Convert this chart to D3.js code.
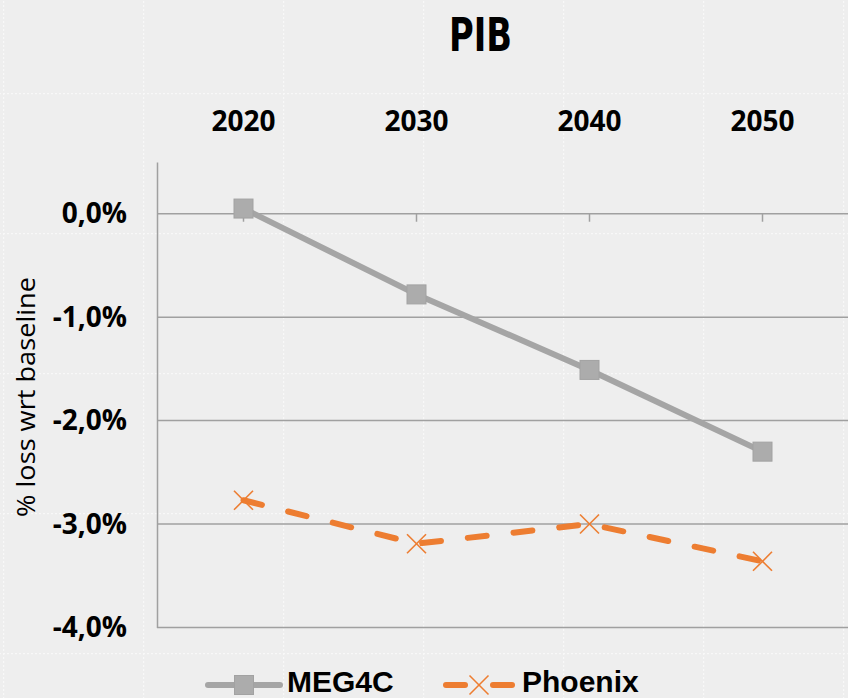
<!DOCTYPE html>
<html><head><meta charset="utf-8">
<script src="https://cdn.jsdelivr.net/npm/d3@7"></script>
<style>html,body{margin:0;padding:0;background:#eeeeee;overflow:hidden}</style>
</head><body>
<svg id="c" width="848" height="698"></svg>
<script>
const years = ["2020","2030","2040","2050"];
const meg4c = [0.05, -0.78, -1.51, -2.30];
const phoenix = [-2.77, -3.19, -3.00, -3.36];
const yTicks = [0, -1, -2, -3, -4];
const seriesNames = ["MEG4C","Phoenix"];

const svg = d3.select("#c");
const W = 848, H = 698;

// background with faint pattern grid
const defs = svg.append("defs");
const pat = defs.append("pattern").attr("id","bg").attr("patternUnits","userSpaceOnUse")
  .attr("width",140).attr("height",140).attr("x",3).attr("y",93);
pat.append("rect").attr("width",140).attr("height",140).attr("fill","#eeeeee");
pat.append("line").attr("x1",0).attr("x2",140).attr("y1",0.5).attr("y2",0.5)
  .attr("stroke","#f8f8f8").attr("stroke-width",1.5).attr("stroke-dasharray","2,2");
pat.append("line").attr("y1",0).attr("y2",140).attr("x1",0.5).attr("x2",0.5)
  .attr("stroke","#f8f8f8").attr("stroke-width",1.5).attr("stroke-dasharray","2,2");
svg.append("rect").attr("width",W).attr("height",H).attr("fill","url(#bg)");

const x = d3.scaleBand().domain(years).range([157, 849]).padding(0);
const y = d3.scaleLinear().domain([-4, 0.5]).range([627.5, 162]);
const cx = d => x(d) + x.bandwidth()/2;

const loc = d3.formatLocale({decimal: ",", thousands: ".", grouping:[3], currency:["","€"], minus:"-"});
const fmt = v => loc.format(".1f")(Math.abs(v) < 1e-9 ? 0 : v) + "%";

// gridlines
svg.append("g").selectAll("line").data(yTicks).join("line")
  .attr("x1",157).attr("x2",W).attr("y1",d=>y(d)).attr("y2",d=>y(d))
  .attr("stroke","#a0a0a0").attr("stroke-width",1.5);

// y axis
const yAxis = d3.axisLeft(y).tickValues(yTicks).tickFormat(fmt).tickSize(0).tickPadding(30);
const gy = svg.append("g").attr("transform","translate(157,0)").call(yAxis);
gy.select(".domain").attr("stroke","#a0a0a0").attr("stroke-width",1.5);
gy.selectAll("text").attr("font-family","'Open Sans', sans-serif").attr("font-weight","bold")
  .attr("font-size",28).attr("fill","#000");

// x axis at 0 with ticks below, labels at top
const xAxis = d3.axisBottom(x).tickSize(8).tickFormat("");
const gx = svg.append("g").attr("transform",`translate(0,${y(0)})`).call(xAxis);
gx.select(".domain").remove();
gx.selectAll(".tick line").attr("stroke","#a0a0a0").attr("stroke-width",1.5);

svg.append("g").selectAll("text").data(years).join("text")
  .attr("x",d=>cx(d)).attr("y",131).attr("text-anchor","middle")
  .attr("font-family","'Open Sans', sans-serif").attr("font-weight","bold").attr("font-size",28)
  .attr("fill","#000").text(d=>d);

// title
svg.append("text").attr("x",480.5).attr("y",51).attr("text-anchor","middle")
  .attr("font-family","'DejaVu Sans Condensed','DejaVu Sans',sans-serif").attr("font-weight","bold")
  .attr("font-size",46).attr("textLength",63).attr("lengthAdjust","spacingAndGlyphs")
  .attr("fill","#000").text("PIB");

// y title
svg.append("text").attr("transform","translate(35,397) rotate(-90)").attr("text-anchor","middle")
  .attr("font-family","'Open Sans', sans-serif").attr("font-size",26).attr("fill","#000")
  .attr("textLength",240).attr("lengthAdjust","spacingAndGlyphs")
  .text("% loss wrt baseline");

const line = d3.line().x((d,i)=>cx(years[i])).y(d=>y(d));

// MEG4C
svg.append("path").datum(meg4c).attr("d",line).attr("fill","none")
  .attr("stroke","#a5a5a5").attr("stroke-width",6).attr("stroke-linejoin","round");
svg.append("g").selectAll("rect").data(meg4c).join("rect")
  .attr("x",(d,i)=>cx(years[i])-9.5).attr("y",d=>y(d)-9.5).attr("width",19).attr("height",19)
  .attr("fill","#acacac").attr("stroke","#a2a2a2").attr("stroke-width",1);

// Phoenix
svg.append("path").datum(phoenix).attr("d",line).attr("fill","none")
  .attr("stroke","#ed7d31").attr("stroke-width",6).attr("stroke-linecap","round")
  .attr("stroke-dasharray","19,27");
const xm = (g, px, py, s) => {
  g.append("line").attr("x1",px-s).attr("y1",py-s).attr("x2",px+s).attr("y2",py+s);
  g.append("line").attr("x1",px-s).attr("y1",py+s).attr("x2",px+s).attr("y2",py-s);
};
const gm = svg.append("g").attr("stroke","#ed7d31").attr("stroke-width",1.6);
phoenix.forEach((d,i)=>xm(gm, cx(years[i]), y(d), 9.5));

// legend
const ly = 685;
const lg = svg.append("g");
lg.append("line").attr("x1",208).attr("x2",280).attr("y1",ly).attr("y2",ly)
  .attr("stroke","#a5a5a5").attr("stroke-width",6).attr("stroke-linecap","round");
lg.append("rect").attr("x",244-9.5).attr("y",ly-9.5).attr("width",19).attr("height",19)
  .attr("fill","#acacac").attr("stroke","#a2a2a2");
lg.append("text").attr("x",287).attr("y",692).attr("font-family","'Liberation Sans', Arial, sans-serif")
  .attr("font-weight","bold").attr("font-size",30).attr("fill","#000").text(seriesNames[0]);

lg.append("line").attr("x1",446).attr("x2",465).attr("y1",ly).attr("y2",ly)
  .attr("stroke","#ed7d31").attr("stroke-width",6).attr("stroke-linecap","round");
lg.append("line").attr("x1",493).attr("x2",512).attr("y1",ly).attr("y2",ly)
  .attr("stroke","#ed7d31").attr("stroke-width",6).attr("stroke-linecap","round");
const lgm = lg.append("g").attr("stroke","#ed7d31").attr("stroke-width",1.6);
xm(lgm, 479, ly, 9.5);
lg.append("text").attr("x",522).attr("y",692).attr("font-family","'Liberation Sans', Arial, sans-serif")
  .attr("font-weight","bold").attr("font-size",30).attr("fill","#000").text(seriesNames[1]);
</script>
</body></html>
